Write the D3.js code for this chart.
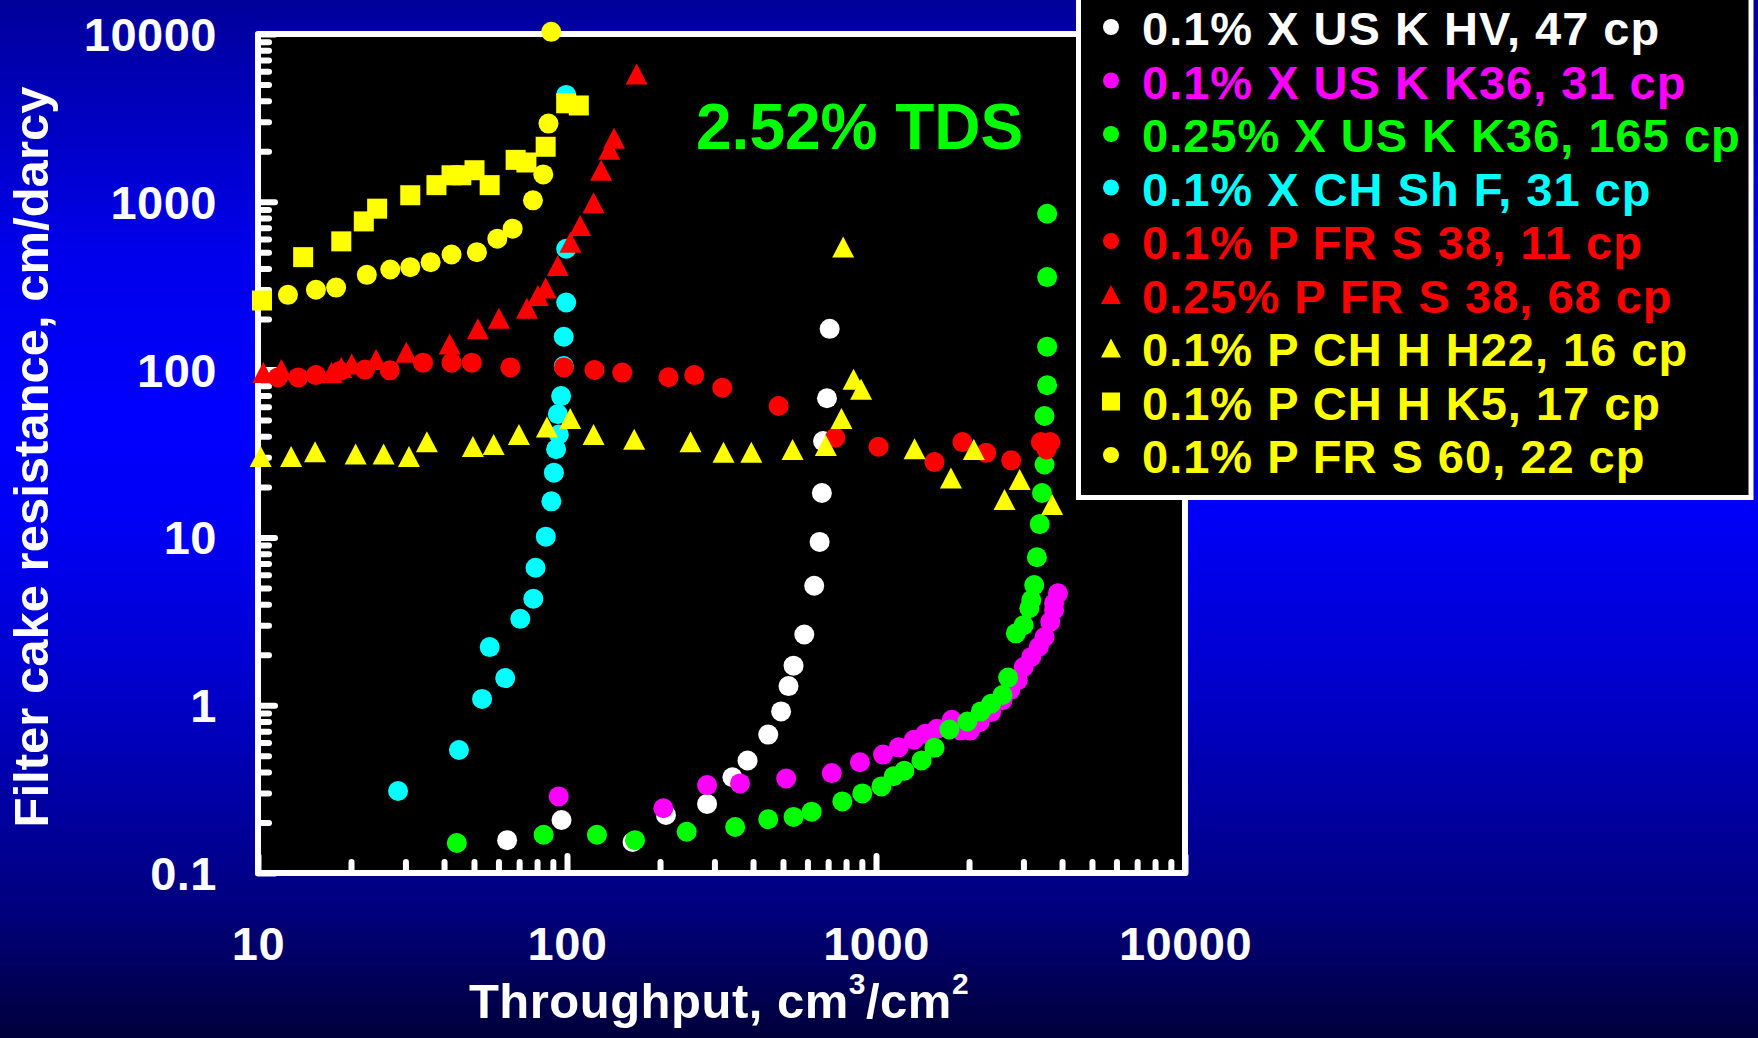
<!DOCTYPE html>
<html>
<head>
<meta charset="utf-8">
<script src="https://cdn.jsdelivr.net/npm/d3@7/dist/d3.min.js"></script>
<style>
  html, body { margin: 0; padding: 0; background: #000060; overflow: hidden; }
  svg { display: block; }
  text { font-family: "Liberation Sans", Arial, Helvetica, sans-serif; font-weight: bold; }
</style>
</head>
<body>
<svg id="chart" width="1758" height="1038"></svg>
<script>
// Filter cake resistance vs. throughput, 2.52% TDS brine, polymer solutions.
// Each point is [throughput (cm3/cm2), resistance (cm/darcy)].

const xUSK_HV_47 = [
  [64, 0.157], [96, 0.207], [163, 0.153], [209, 0.222], [284, 0.258], [343, 0.372],
  [384, 0.468], [448, 0.668], [493, 0.918], [521, 1.30], [541, 1.72], [586, 2.64],
  [631, 5.15], [657, 9.4], [668, 18.4], [674, 37.5], [694, 67.5], [708, 175]
];
const xUSK_K36_31 = [
  [94, 0.286], [205, 0.243], [284, 0.334], [363, 0.342], [512, 0.366], [719, 0.394],
  [887, 0.457], [1054, 0.508], [1184, 0.561], [1326, 0.622], [1444, 0.676], [1574, 0.723],
  [1759, 0.818], [1879, 0.706], [2016, 0.706], [2164, 0.792], [2358, 0.91], [2567, 1.07],
  [2718, 1.23], [2876, 1.41], [3005, 1.69], [3180, 1.94], [3365, 2.23], [3511, 2.55],
  [3664, 3.14], [3770, 3.69], [3770, 4.05], [3880, 4.65]
];
const xUSK_K36_165 = [
  [44, 0.151], [84, 0.169], [125, 0.169], [166, 0.157], [244, 0.176], [350, 0.188],
  [448, 0.209], [541, 0.216], [619, 0.232], [778, 0.267], [903, 0.298], [1041, 0.328],
  [1140, 0.377], [1235, 0.407], [1404, 0.468], [1546, 0.557], [1728, 0.716], [1976, 0.80],
  [2184, 0.918], [2358, 1.02], [2567, 1.15], [2677, 1.46], [2835, 2.68], [3004, 3.0],
  [3135, 3.78], [3180, 4.23], [3251, 5.2], [3316, 7.62], [3386, 12.0], [3445, 18.4],
  [3511, 27.2], [3511, 52.9], [3580, 80.7], [3580, 137], [3580, 356], [3580, 849]
];
const xCHShF_31 = [
  [28.4, 0.308], [44.7, 0.541], [53.1, 1.09], [63.1, 1.45], [56.2, 2.22], [70.6, 3.27],
  [77.8, 4.31], [79.1, 6.59], [85.4, 10.1], [89.0, 16.4], [90.7, 24.3], [92.2, 33.5],
  [94.1, 41.1], [93.4, 54.3], [95.7, 69.5], [97.6, 105], [97.6, 157], [99.4, 251],
  [99.4, 525], [99.4, 4335]
];
const pFRS38_11 = [
  [11.6, 89.8], [13.5, 89.8], [15.4, 92.7], [18.4, 98], [22.2, 100], [26.7, 99],
  [34.2, 110], [42.3, 110], [49.2, 110], [65.6, 103], [97.7, 103], [122.7, 99.6],
  [151, 96], [213, 90], [258, 92.7], [318, 78], [484, 60.7], [738, 39.3],
  [1019, 34.7], [1546, 28.1], [1904, 37.0], [2273, 31.9], [2738, 28.8], [3415, 37.0],
  [3665, 37.0], [3563, 33.4]
];
const pFRS38_68 = [
  [10.4, 96], [11.9, 100], [17.3, 96], [18.6, 103], [20.1, 108], [24.1, 115],
  [30.2, 127], [41.7, 142], [51.5, 175], [60.2, 202], [74.2, 232], [80.5, 276],
  [85.3, 306], [93.4, 417], [102.6, 575], [110.3, 723], [121.9, 988], [129, 1542],
  [137, 2060], [142, 2388], [168, 5770]
];
const pCHH_H22_16 = [
  [10.2, 30.3], [12.8, 30.3], [15.3, 32.4], [20.7, 31.4], [25.5, 31.4], [30.8, 30.3],
  [35.2, 37.1], [49.6, 34.8], [57.9, 35.8], [69.9, 41.1], [86.1, 45.5], [102.4, 51.2],
  [121.9, 41.1], [165, 38.5], [251, 37.1], [321, 32.2], [395, 32.2], [537, 33.4],
  [688, 35.3], [773, 51.1], [783, 537], [846, 87.7], [895, 76.4], [1333, 33.7],
  [1748, 22.6], [2073, 33.4], [2917, 22.1], [2606, 16.8], [3716, 15.7]
];
const pCHH_K5_17 = [
  [10.3, 258], [14.0, 468], [18.6, 581], [22.0, 764], [24.3, 910], [31.1, 1094],
  [37.8, 1257], [42.3, 1439], [45.5, 1439], [50.2, 1542], [56.2, 1257], [68.2, 1778],
  [73.9, 1715], [85.3, 2128], [99.4, 3864], [109.2, 3750]
];
const pFRS60_22 = [
  [12.5, 279], [15.4, 299], [17.9, 308], [22.5, 367], [26.8, 395], [31.1, 408],
  [36.2, 437], [42.3, 485], [51.1, 501], [59.5, 603], [66.7, 692], [77.6, 1020],
  [83.8, 1456], [87.1, 2926], [88.9, 10300]
];

const seriesNames = [
  "0.1% X US K HV, 47 cp",
  "0.1% X US K K36, 31 cp",
  "0.25% X US K K36, 165 cp",
  "0.1% X CH Sh F, 31 cp",
  "0.1% P FR S 38, 11 cp",
  "0.25% P FR S 38, 68 cp",
  "0.1% P CH H H22, 16 cp",
  "0.1% P CH H K5, 17 cp",
  "0.1% P FR S 60, 22 cp"
];
const seriesColors = ["#ffffff", "#ff00ff", "#00ff00", "#00ffff", "#ff0000", "#ff0000", "#ffff00", "#ffff00", "#ffff00"];
const seriesShapes = ["circle", "circle", "circle", "circle", "circle", "triangle", "triangle", "square", "circle"];
const seriesData = [xUSK_HV_47, xUSK_K36_31, xUSK_K36_165, xCHShF_31, pFRS38_11, pFRS38_68, pCHH_H22_16, pCHH_K5_17, pFRS60_22];

const xTickLabels = ["10", "100", "1000", "10000"];
const yTickLabels = ["0.1", "1", "10", "100", "1000", "10000"];
const annotation = "2.52% TDS";

const W = 1758, H = 1038;
const plot = { left: 258, right: 1185, top: 34, bottom: 873 };

const svg = d3.select("#chart");

// Blue slide background: dark at the top, bright in the middle, navy at the bottom.
const grad = svg.append("defs").append("linearGradient")
  .attr("id", "bg").attr("x1", 0).attr("y1", 0).attr("x2", 0).attr("y2", 1);
[[0, "#00009a"], [0.24, "#0000ea"], [0.40, "#0000ff"], [0.50, "#0000f6"],
 [0.67, "#0000c8"], [0.87, "#000080"], [1, "#00003a"]]
  .forEach(([o, c]) => grad.append("stop").attr("offset", o).attr("stop-color", c));
svg.append("rect").attr("width", W).attr("height", H).attr("fill", "url(#bg)");

const x = d3.scaleLog().domain([10, 10000]).range([plot.left, plot.right]);
const y = d3.scaleLog().domain([0.1, 10000]).range([plot.bottom, plot.top]);

// Plot frame
svg.append("rect")
  .attr("x", plot.left).attr("y", plot.top)
  .attr("width", plot.right - plot.left).attr("height", plot.bottom - plot.top)
  .attr("fill", "#000").attr("stroke", "#fff").attr("stroke-width", 6)
  .attr("stroke-linejoin", "round");

const isDecade = v => Math.abs(Math.log10(v) - Math.round(Math.log10(v))) < 1e-9;
const xAll = x.ticks(), yAll = y.ticks();
const xMajor = xAll.filter(isDecade), xMinor = xAll.filter(v => !isDecade(v));
const yMajor = yAll.filter(isDecade), yMinor = yAll.filter(v => !isDecade(v));

function styleAxis(g) {
  g.select(".domain").remove();
  g.selectAll(".tick line")
    .attr("stroke", "#fff").attr("stroke-width", 6).attr("stroke-linecap", "round");
  g.selectAll(".tick text")
    .attr("fill", "#fff").attr("font-size", 47)
    .style("font-family", '"Liberation Sans", Arial, sans-serif')
    .style("font-weight", "bold").style("letter-spacing", "0.5px");
}

// Inward-pointing ticks on the left and bottom sides
svg.append("g").attr("transform", `translate(0,${plot.bottom})`)
  .call(d3.axisBottom(x).tickValues(xMinor).tickSize(-11).tickFormat(""))
  .call(styleAxis);
svg.append("g").attr("transform", `translate(0,${plot.bottom})`)
  .call(d3.axisBottom(x).tickValues(xMajor).tickSize(-17).tickPadding(54)
    .tickFormat((d, i) => xTickLabels[i]))
  .call(styleAxis);
svg.append("g").attr("transform", `translate(${plot.left},0)`)
  .call(d3.axisLeft(y).tickValues(yMinor).tickSize(-11).tickFormat(""))
  .call(styleAxis);
svg.append("g").attr("transform", `translate(${plot.left},0)`)
  .call(d3.axisLeft(y).tickValues(yMajor).tickSize(-17).tickPadding(41)
    .tickFormat((d, i) => yTickLabels[i]))
  .call(styleAxis)
  .call(g => g.selectAll(".tick text").attr("dy", "0.35em"));

// Marker shapes, centred on (0,0)
const triPath = (w, h) => `M0,${-h / 2}L${w / 2},${h / 2}L${-w / 2},${h / 2}Z`;
function appendShape(sel, shape, color, size) {
  if (shape === "circle") {
    sel.append("circle").attr("r", size.r).attr("fill", color);
  } else if (shape === "square") {
    sel.append("rect").attr("x", -size.sq / 2).attr("y", -size.sq / 2)
      .attr("width", size.sq).attr("height", size.sq).attr("fill", color);
  } else {
    sel.append("path").attr("d", triPath(size.tw, size.th)).attr("fill", color);
  }
}

const plotSize = { r: 10, sq: 20, tw: 22, th: 21 };
seriesData.forEach((data, i) => {
  const pts = svg.append("g").selectAll("g").data(data).join("g")
    .attr("transform", d => `translate(${x(d[0])},${y(d[1])})`);
  appendShape(pts, seriesShapes[i], seriesColors[i], plotSize);
});

// Annotation
svg.append("text").attr("x", 696).attr("y", 149)
  .attr("font-size", 64).attr("fill", "#00ff00").text(annotation);

// Axis titles
svg.append("text")
  .attr("transform", "translate(48,457) rotate(-90)")
  .attr("text-anchor", "middle").attr("font-size", 49).attr("fill", "#fff")
  .text("Filter cake resistance, cm/darcy");

const xt = svg.append("text").attr("x", 719).attr("y", 1018)
  .attr("text-anchor", "middle").attr("font-size", 49).attr("fill", "#fff")
  .style("letter-spacing", "0.5px");
xt.append("tspan").text("Throughput, cm");
xt.append("tspan").attr("font-size", 30).attr("dy", -24).text("3");
xt.append("tspan").attr("dy", 24).text("/cm");
xt.append("tspan").attr("font-size", 30).attr("dy", -24).text("2");

// Legend
const legend = svg.append("g");
legend.append("rect")
  .attr("x", 1078.5).attr("y", -10).attr("width", 672.5).attr("height", 507.5)
  .attr("fill", "#000").attr("stroke", "#fff").attr("stroke-width", 5);
const legendSize = { r: 8, sq: 18, tw: 20, th: 19 };
const rowY = i => 45 + 53.5 * i;
const rows = legend.selectAll("g.row").data(seriesNames).join("g")
  .attr("class", "row");
rows.each(function (name, i) {
  const row = d3.select(this);
  const mark = row.append("g").attr("transform", `translate(1111,${rowY(i) - 18})`);
  appendShape(mark, seriesShapes[i], seriesColors[i], legendSize);
  row.append("text").attr("x", 1142).attr("y", rowY(i))
    .attr("font-size", 47).attr("fill", seriesColors[i])
    .style("letter-spacing", "1px").text(name);
});
</script>
</body>
</html>
